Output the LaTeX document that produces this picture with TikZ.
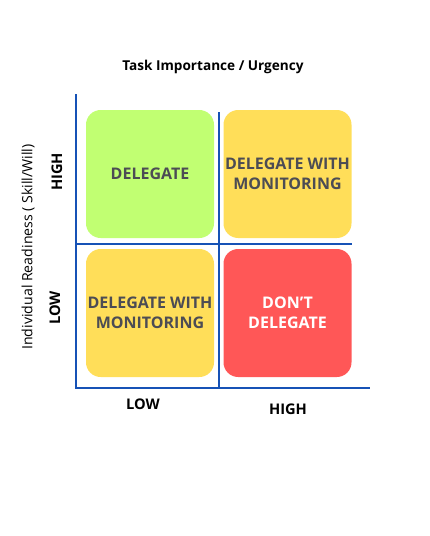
\documentclass[tikz,border=0pt]{standalone}
\usepackage{fontspec}
\setmainfont{Open Sans}
\usetikzlibrary{positioning}
\definecolor{axisblue}{RGB}{22,82,182}
\definecolor{quadgreen}{RGB}{193,255,114}
\definecolor{quadyellow}{RGB}{255,222,89}
\definecolor{quadred}{RGB}{255,87,87}
\definecolor{quadtext}{RGB}{76,76,84}

\begin{document}
\begin{tikzpicture}[
  x=0.75pt, y=-0.75pt,
  quad/.style={rectangle, rounded corners=11pt, inner sep=0pt, minimum width=96pt, minimum height=96pt, align=center, text=quadtext, font=\bfseries\fontsize{12}{15}\selectfont},
  axis/.style={draw=axisblue, line width=2.2pt},
  divider/.style={draw=axisblue, line width=1.1pt},
  lbl/.style={font=\bfseries\fontsize{11}{13}\selectfont},
]
  \useasboundingbox (0,0) rectangle (429,536);

  % Axis corners and divider ends
  \coordinate (origin) at (76,388);
  \coordinate (ytop) at (76,94);
  \coordinate (xend) at (370,388);
  \coordinate (vtop) at (219,112);
  \coordinate (vbot) at (219,388);
  \coordinate (hleft) at (76,244);
  \coordinate (hright) at (352,244);

  \draw[divider] (vtop) -- (vbot);
  \draw[divider] (hleft) -- (hright);
  \draw[axis] (ytop) -- (origin) -- (xend);

  % Quadrants
  \node[quad, fill=quadgreen] (delegate) at (150,174) {DELEGATE};
  \node[quad, fill=quadyellow] (monhigh) at (287.5,174) {DELEGATE WITH\\MONITORING};
  \node[quad, fill=quadyellow] (monlow) at (150,313) {DELEGATE WITH\\MONITORING};
  \node[quad, fill=quadred, text=white] (dont) at (287.5,313) {DON’T\\DELEGATE};

  % Axis labels
  \node[font=\bfseries\fontsize{10.2}{12}\selectfont] (xtitle) at (213,67) {Task Importance / Urgency};
  \node[lbl] (xlow) at (143,404) {LOW};
  \node[lbl] (xhigh) at (288,409) {HIGH};
  \node[rotate=90, font=\fontsize{10.6}{12}\selectfont] (ytitle) at (28,247) {Individual Readiness ( Skill/Will)};
  \node[lbl, rotate=90] (yhigh) at (57,172) {HIGH};
  \node[lbl, rotate=90] (ylow) at (55,308) {LOW};
\end{tikzpicture}
\end{document}
